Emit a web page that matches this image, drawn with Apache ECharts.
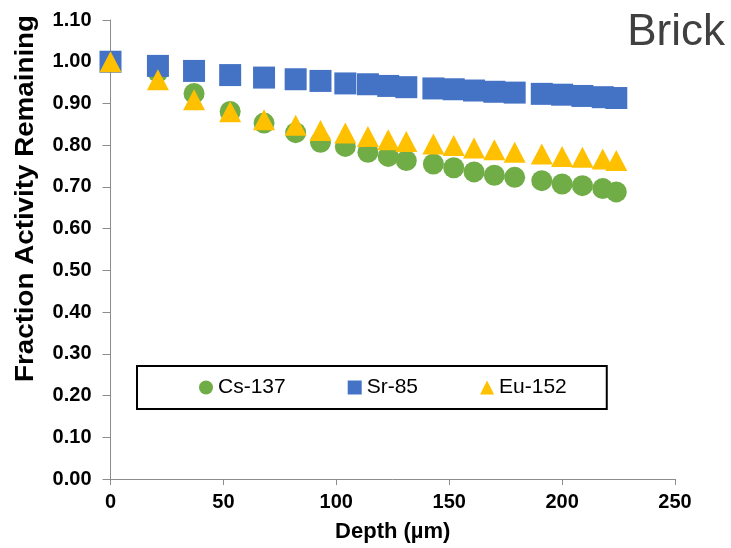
<!DOCTYPE html>
<html>
<head>
<meta charset="utf-8">
<script src="https://cdn.jsdelivr.net/npm/echarts@6/dist/echarts.min.js"></script>
<style>html,body{margin:0;padding:0;background:#fff}#c{width:731px;height:548px}</style>
</head>
<body>
<div id="c"></div>
<script>
const depth = [0, 21, 37, 53, 68, 82, 93, 104, 114, 123, 131, 143, 152, 161, 170, 179, 191, 200, 209, 218, 224];
const cs137 = [1.00, 0.975, 0.924, 0.881, 0.853, 0.830, 0.807, 0.797, 0.783, 0.773, 0.763, 0.755, 0.746, 0.736, 0.728, 0.723, 0.715, 0.707, 0.703, 0.696, 0.688];
const sr85 = [1.00, 0.990, 0.978, 0.968, 0.962, 0.958, 0.954, 0.948, 0.946, 0.942, 0.939, 0.936, 0.934, 0.931, 0.928, 0.926, 0.923, 0.921, 0.918, 0.915, 0.913];
const eu152 = [1.00, 0.957, 0.909, 0.880, 0.861, 0.848, 0.835, 0.829, 0.821, 0.813, 0.809, 0.803, 0.799, 0.793, 0.789, 0.783, 0.779, 0.773, 0.771, 0.767, 0.763];
const seriesNames = ['Cs-137', 'Sr-85', 'Eu-152'];
const xTitle = 'Depth (µm)';
const yTitle = 'Fraction Activity Remaining';
const panelTitle = 'Brick';

const pairs = (xs, ys) => xs.map((x, i) => [x, ys[i]]);
const chart = echarts.init(document.getElementById('c'));
const font = 'Liberation Sans, Arial, sans-serif';
const axisGray = '#8c8c8c';
chart.setOption({
  animation: false,
  backgroundColor: '#fff',
  title: {
    text: panelTitle, right: 1, top: 6,
    textStyle: { fontFamily: font, fontSize: 44, fontWeight: 'normal', color: '#404040' }
  },
  grid: { left: 110.5, right: 56, top: 20, bottom: 68 },
  legend: {
    left: 137, top: 366,
    padding: [11, 40, 11, 62],
    borderColor: '#000', borderWidth: 2,
    itemWidth: 14, itemHeight: 14, itemGap: 62,
    textStyle: { fontFamily: font, fontSize: 21, color: '#000' },
    data: [
      { name: seriesNames[0], icon: 'circle' },
      { name: seriesNames[1], icon: 'rect' },
      { name: seriesNames[2], icon: 'triangle' }
    ]
  },
  xAxis: {
    type: 'value', min: 0, max: 250, interval: 50,
    name: xTitle, nameLocation: 'middle', nameGap: 42,
    nameTextStyle: { fontFamily: font, fontSize: 22, fontWeight: 'bold', color: '#000' },
    axisLine: { show: true, lineStyle: { color: axisGray, width: 1 } },
    axisTick: { show: true, length: 6, lineStyle: { color: axisGray } },
    axisLabel: { margin: 13, fontFamily: font, fontSize: 20, fontWeight: 'bold', color: '#000' },
    splitLine: { show: false }
  },
  yAxis: {
    type: 'value', min: 0, max: 1.1, interval: 0.1,
    axisLine: { show: true, lineStyle: { color: axisGray, width: 1 } },
    axisTick: { show: true, length: 8, lineStyle: { color: axisGray } },
    axisLabel: { margin: 19, fontFamily: font, fontSize: 20, fontWeight: 'bold', color: '#000',
      formatter: v => v.toFixed(2) },
    splitLine: { show: false }
  },
  graphic: [{
    type: 'text', left: 14, top: 15, rotation: Math.PI / 2, scaleX: 1.11,
    style: { text: yTitle, font: 'bold 25px ' + font, fill: '#000' }
  }],
  series: [
    { name: seriesNames[0], type: 'scatter', symbol: 'circle', symbolSize: 21,
      itemStyle: { color: '#70AD47', opacity: 1 }, data: pairs(depth, cs137) },
    { name: seriesNames[1], type: 'scatter', symbol: 'rect', symbolSize: 22,
      itemStyle: { color: '#4472C4', opacity: 1 }, data: pairs(depth, sr85) },
    { name: seriesNames[2], type: 'scatter', symbol: 'triangle', symbolSize: [22, 21],
      itemStyle: { color: '#FFC000', opacity: 1 }, data: pairs(depth, eu152) }
  ]
});
</script>
</body>
</html>
